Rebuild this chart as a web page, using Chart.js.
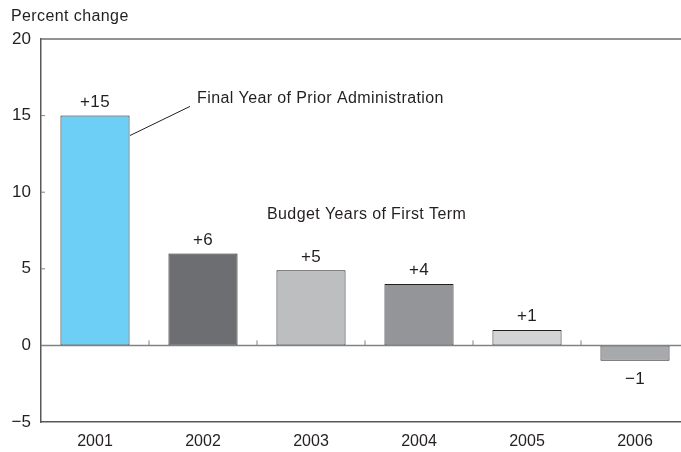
<!DOCTYPE html>
<html>
<head>
<meta charset="utf-8">
<script src="https://cdn.jsdelivr.net/npm/chart.js@4"></script>
<style>
  html, body { margin: 0; padding: 0; background: #fff; overflow: hidden; }
  #clip { width: 681px; height: 452px; overflow: hidden; }
  #wrap { width: 689px; height: 452px; position: relative; }
</style>
</head>
<body>
<div id="clip"><div id="wrap"><canvas id="budgetChart"></canvas></div></div>
<script>
const years = ["2001", "2002", "2003", "2004", "2005", "2006"];
const changes = [15, 6, 4.9, 4, 1, -1];
const valueLabels = ["+15", "+6", "+5", "+4", "+1", "\u22121"];
const barColors = ["#6dcff6", "#6d6e71", "#bcbec0", "#939598", "#d1d3d4", "#a7a9ac"];
const yTicks = [-5, 0, 5, 10, 15, 20];

const textColor = "#231f20";
const fontFamily = "'Liberation Sans', Arial, sans-serif";

// frame, zero line, small ticks, value labels and notes
const decorations = {
    id: "decorations",
    afterDraw(chart) {
        const ctx = chart.ctx;
        const x = chart.scales.x;
        const y = chart.scales.y;
        const area = chart.chartArea;
        const zero = y.getPixelForValue(0);

        ctx.save();
        ctx.strokeStyle = "#6d6e71";
        ctx.lineWidth = 1.5;
        ctx.beginPath();
        ctx.moveTo(area.left, area.top);
        ctx.lineTo(area.right, area.top);
        ctx.stroke();

        ctx.strokeStyle = "#808285";
        ctx.beginPath();
        ctx.moveTo(area.left, zero);
        ctx.lineTo(area.right, zero);
        ctx.stroke();

        // inside ticks on the y axis
        ctx.lineWidth = 1;
        [5, 10, 15].forEach(v => {
            const py = y.getPixelForValue(v);
            ctx.beginPath();
            ctx.moveTo(area.left, py);
            ctx.lineTo(area.left + 4, py);
            ctx.stroke();
        });

        // category separators on the zero line
        for (let i = 0; i < years.length - 1; i++) {
            const px = (x.getPixelForValue(i) + x.getPixelForValue(i + 1)) / 2;
            ctx.beginPath();
            ctx.moveTo(px, zero);
            ctx.lineTo(px, zero - 5);
            ctx.stroke();
        }

        ctx.fillStyle = textColor;
        ctx.letterSpacing = "0.4px";
        ctx.font = "17px " + fontFamily;
        ctx.textAlign = "center";
        changes.forEach((v, i) => {
            const px = x.getPixelForValue(i);
            if (v >= 0) {
                ctx.textBaseline = "bottom";
                ctx.fillText(valueLabels[i], px, y.getPixelForValue(v) - 5);
            } else {
                ctx.textBaseline = "top";
                ctx.fillText(valueLabels[i], px, y.getPixelForValue(v) + 10);
            }
        });

        // notes
        ctx.textAlign = "left";
        ctx.textBaseline = "middle";
        ctx.font = "16px " + fontFamily;
        const barRight = x.getPixelForValue(0) + 34;
        ctx.fillText("Final Year of Prior Administration", barRight + 68, y.getPixelForValue(16.1));
        ctx.fillText("Budget Years of First Term", x.getPixelForValue(1) + 64, y.getPixelForValue(8.55));

        ctx.strokeStyle = textColor;
        ctx.lineWidth = 1;
        ctx.beginPath();
        ctx.moveTo(barRight + 1, y.getPixelForValue(13.7));
        ctx.lineTo(barRight + 61, y.getPixelForValue(15.6));
        ctx.stroke();

        ctx.fillText("Percent change", 11, 17);
        ctx.restore();
    }
};

const ctx = document.getElementById("budgetChart").getContext("2d");
let chart = new Chart(ctx, {
    type: "bar",
    data: {
        labels: years,
        datasets: [{
            label: "Percent change",
            data: changes,
            backgroundColor: barColors,
            borderColor: "#231f20",
            borderWidth: 1,
            borderSkipped: false,
            categoryPercentage: 1,
            barPercentage: 0.64
        }]
    },
    options: {
        responsive: true,
        maintainAspectRatio: false,
        animation: false,
        layout: { padding: { top: 39, right: 0, left: 0, bottom: 0 } },
        plugins: {
            legend: { display: false },
            tooltip: { enabled: false }
        },
        scales: {
            x: {
                grid: { display: false, drawTicks: false },
                border: { display: true, color: "#58595b", width: 1.5 },
                ticks: {
                    color: textColor,
                    font: { family: fontFamily, size: 16 },
                    padding: 10,
                    maxRotation: 0
                },
                afterFit(scale) { scale.height = 30; }
            },
            y: {
                min: -5,
                max: 20,
                afterBuildTicks(scale) { scale.ticks = yTicks.map(v => ({ value: v })); },
                grid: { display: false, drawTicks: false },
                border: { display: true, color: "#58595b", width: 1.5 },
                ticks: {
                    color: textColor,
                    font: { family: fontFamily, size: 17 },
                    padding: 10,
                    callback: v => v < 0 ? "\u2212" + Math.abs(v) : String(v)
                },
                afterFit(scale) { scale.width = 41; }
            }
        }
    },
    plugins: [decorations]
});
</script>
</body>
</html>
